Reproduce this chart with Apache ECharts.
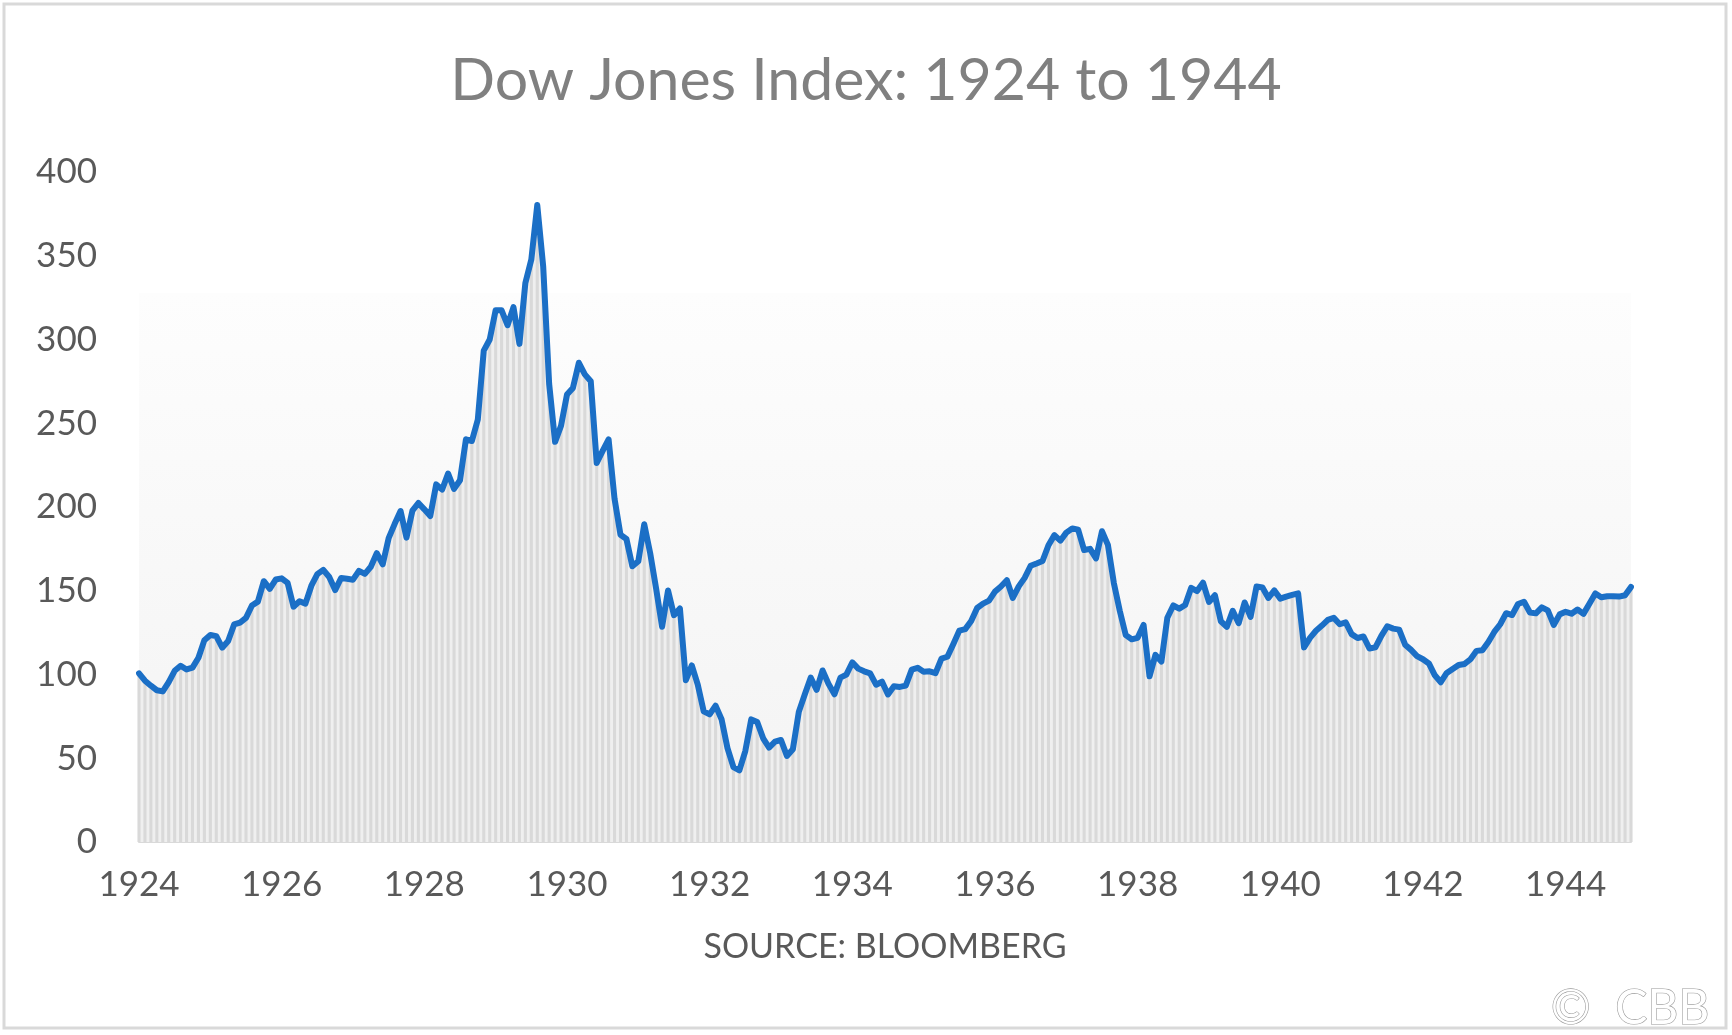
<!DOCTYPE html>
<html>
<head>
<meta charset="utf-8">
<title>Dow Jones Index: 1924 to 1944</title>
<script src="https://cdn.jsdelivr.net/npm/echarts@6/dist/echarts.min.js"></script>
<style>
  html, body { margin: 0; padding: 0; background: #fff; }
  #chart { width: 1732px; height: 1035px; }
</style>
</head>
<body>
<div id="chart"></div>
<script>
// monthly closes, Jan 1924 .. Dec 1944
const dow1920s = [
  100.7, 96.3, 93.3, 90.6, 89.9, 95.5, 102.2, 105.2, 103.0, 104.1, 110.0, 120.5,   // 1924
  123.6, 122.9, 116.0, 120.0, 129.9, 131.0, 133.8, 141.2, 143.5, 155.7, 151.1, 156.7, // 1925
  157.4, 154.7, 140.5, 143.7, 142.3, 153.0, 159.9, 162.5, 158.2, 150.4, 157.6, 157.2, // 1926
  156.6, 161.9, 160.1, 164.3, 172.4, 165.7, 181.4, 189.8, 197.6, 181.7, 197.8, 202.4, // 1927
  198.6, 194.6, 213.5, 210.4, 220.0, 210.8, 216.0, 240.4, 239.4, 252.2, 293.4, 300.0, // 1928
  317.5, 317.4, 308.5, 319.3, 297.4, 333.8, 347.7, 380.3, 343.5, 273.5, 238.9, 248.5  // 1929
];
const dow1930s = [
  267.1, 271.1, 286.1, 279.2, 275.1, 226.3, 233.5, 240.4, 204.9, 183.4, 180.9, 164.6, // 1930
  167.6, 189.7, 172.4, 151.2, 128.5, 150.2, 135.4, 139.4, 96.6, 105.4, 93.9, 78.0,    // 1931
  76.2, 81.4, 73.3, 56.1, 44.7, 42.8, 54.3, 73.2, 71.6, 61.9, 56.4, 59.9,             // 1932
  60.9, 51.4, 55.4, 77.7, 88.1, 98.1, 90.8, 102.4, 94.4, 88.2, 98.1, 99.9,            // 1933
  107.2, 103.5, 101.9, 100.7, 93.9, 95.7, 88.1, 93.0, 92.6, 93.4, 102.9, 104.0,       // 1934
  101.7, 101.9, 100.8, 109.5, 110.6, 118.2, 126.2, 127.1, 131.9, 139.7, 142.3, 144.1, // 1935
  149.5, 152.5, 156.3, 145.7, 152.6, 157.7, 164.9, 166.3, 167.8, 177.2, 183.2, 179.9, // 1936
  184.7, 187.2, 186.4, 174.3, 175.0, 169.3, 185.5, 177.4, 154.6, 138.0, 123.5, 121.0, // 1937
  121.9, 129.6, 98.9, 111.7, 107.7, 133.9, 141.2, 139.3, 141.5, 151.7, 149.8, 154.8,  // 1938
  143.3, 147.3, 131.8, 128.4, 138.0, 130.6, 143.0, 134.4, 152.5, 151.9, 145.7, 150.2  // 1939
];
const dow1940s = [
  145.3, 146.5, 147.5, 148.4, 116.2, 121.9, 126.1, 129.2, 132.6, 133.8, 130.0, 131.1, // 1940
  124.1, 121.8, 122.7, 115.5, 116.2, 123.1, 128.8, 127.4, 126.8, 117.8, 114.7, 111.0, // 1941
  109.1, 106.6, 99.5, 95.4, 100.9, 103.3, 105.7, 106.3, 109.1, 114.1, 114.5, 119.4,   // 1942
  125.4, 130.0, 136.6, 135.5, 142.1, 143.4, 137.0, 136.5, 140.1, 138.3, 129.6, 135.9, // 1943
  137.4, 136.3, 138.8, 136.2, 142.2, 148.4, 146.1, 146.7, 146.7, 146.5, 147.3, 152.3  // 1944
];
const yearTicks = ['1924', '1926', '1928', '1930', '1932', '1934', '1936', '1938', '1940', '1942', '1944'];
const yTicks = [0, 50, 100, 150, 200, 250, 300, 350, 400];

const values = dow1920s.concat(dow1930s, dow1940s);
const months = [];
for (let y = 1924; y <= 1944; y++) {
  for (let m = 1; m <= 12; m++) {
    months.push(y + '-' + (m < 10 ? '0' + m : m));
  }
}

const chart = echarts.init(document.getElementById('chart'));
chart.setOption({
  animation: false,
  backgroundColor: '#ffffff',
  textStyle: { fontFamily: 'Lato' },
  title: {
    text: 'Dow Jones Index: 1924 to 1944',
    left: 'center',
    top: 46,
    textStyle: { color: '#808080', fontSize: 59, fontWeight: 'normal', fontFamily: 'Lato' }
  },
  grid: {
    left: 139,
    top: 172,
    width: 1492,
    height: 670,
    show: true,
    borderWidth: 0,
    backgroundColor: {
      type: 'linear', x: 0, y: 0, x2: 0, y2: 1,
      colorStops: [
        { offset: 0, color: '#ffffff' },
        { offset: 0.18, color: '#ffffff' },
        { offset: 0.181, color: '#fdfdfd' },
        { offset: 1, color: '#f3f3f3' }
      ]
    }
  },
  xAxis: {
    type: 'category',
    data: months,
    boundaryGap: false,
    name: 'SOURCE: BLOOMBERG',
    nameLocation: 'middle',
    nameGap: 88,
    nameTextStyle: { color: '#595959', fontSize: 34, fontFamily: 'Lato' },
    axisLine: { lineStyle: { color: '#d9d9d9', width: 2 } },
    axisTick: { show: false },
    axisLabel: {
      color: '#595959',
      fontSize: 35,
      margin: 25,
      interval: function (i) { return i % 24 === 0; },
      formatter: function (v) {
        const yr = v.slice(0, 4);
        return yearTicks.indexOf(yr) >= 0 ? yr : '';
      }
    },
    splitLine: { show: false }
  },
  yAxis: {
    type: 'value',
    min: yTicks[0],
    max: yTicks[yTicks.length - 1],
    interval: 50,
    axisLine: { show: false },
    axisTick: { show: false },
    splitLine: { show: false },
    axisLabel: { color: '#595959', fontSize: 35, margin: 42 }
  },
  series: [
    {
      name: 'fill',
      type: 'line',
      data: values,
      symbol: 'none',
      silent: true,
      z: 1,
      lineStyle: { width: 0, opacity: 0 },
      areaStyle: { color: '#efefef', opacity: 1 }
    },
    {
      name: 'stripes',
      type: 'bar',
      data: values,
      barWidth: '52%',
      silent: true,
      z: 2,
      itemStyle: { color: '#d9d9d9' }
    },
    {
      name: 'Dow Jones',
      type: 'line',
      data: values,
      symbol: 'none',
      z: 3,
      lineStyle: { color: '#1b6fc6', width: 6, cap: 'round', join: 'round' }
    }
  ],
  graphic: [
    {
      type: 'rect',
      shape: { x: 4, y: 4, width: 1722, height: 1024 },
      style: { fill: 'none', stroke: '#d9d9d9', lineWidth: 3 },
      silent: true,
      z: -10
    },
    {
      type: 'text',
      right: 22,
      top: 984,
      style: {
        text: '©  CBB',
        font: '48px Lato',
        fill: '#ffffff',
        stroke: '#999999',
        lineWidth: 1.2
      },
      silent: true
    }
  ]
});
</script>
</body>
</html>
